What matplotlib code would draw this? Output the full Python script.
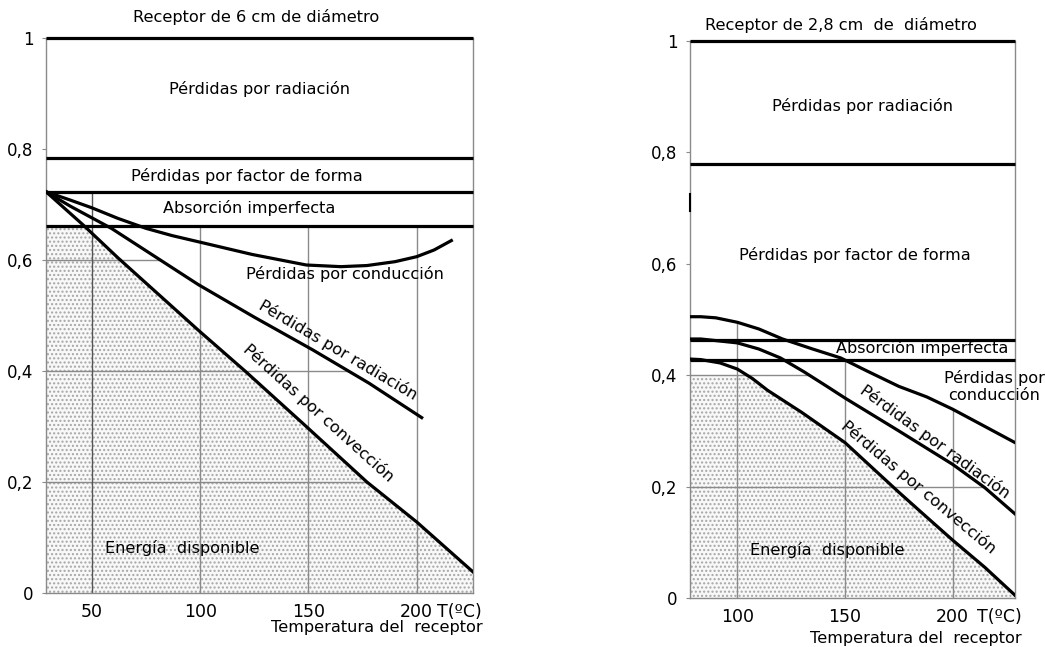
import matplotlib.pyplot as plt
import numpy as np
from matplotlib.patches import Rectangle

# ---- left panel: receptor de 6 cm ----
L_xlim = (28.8, 226)
L_levels = [1.0, 0.783, 0.723, 0.661]   # radiación / factor de forma / absorción bands

L_T_cond = [28.8, 40, 50, 62, 75, 87, 99, 124, 149, 165, 177, 190, 200, 208, 216]
L_v_cond = [0.723, 0.708, 0.694, 0.675, 0.657, 0.644, 0.633, 0.610, 0.591, 0.588, 0.590, 0.597, 0.606, 0.618, 0.635]

L_T_rad = [28.8, 40, 59, 80, 99, 125, 152, 178, 202.3]
L_v_rad = [0.723, 0.697, 0.657, 0.604, 0.556, 0.497, 0.438, 0.378, 0.316]

L_T_conv = [28.8, 46, 62, 99, 121, 149, 177, 200, 226]
L_v_conv = [0.723, 0.663, 0.604, 0.474, 0.399, 0.300, 0.200, 0.128, 0.038]

L_xticks = [50, 100, 150, 200]

# ---- right panel: receptor de 2,8 cm ----
R_xlim = (78, 229)
R_levels = [1.0, 0.780, 0.464, 0.428]

R_T_cond = [78, 83, 90, 100, 110, 121, 135, 148, 160, 175, 188, 200, 215, 229]
R_v_cond = [0.505, 0.505, 0.503, 0.495, 0.483, 0.465, 0.447, 0.431, 0.408, 0.38, 0.361, 0.339, 0.308, 0.279]

R_T_rad = [78, 83, 100, 110, 120, 131, 142, 150, 175, 200, 215, 229]
R_v_rad = [0.465, 0.465, 0.458, 0.447, 0.431, 0.406, 0.379, 0.359, 0.300, 0.240, 0.198, 0.151]

R_T_conv = [78, 83, 92, 100, 107, 114, 130, 150, 175, 186, 200, 215, 229]
R_v_conv = [0.429, 0.428, 0.422, 0.411, 0.394, 0.373, 0.333, 0.279, 0.190, 0.152, 0.104, 0.055, 0.005]

R_xticks = [100, 150, 200]

yticks = [0, 0.2, 0.4, 0.6, 0.8, 1.0]
ytick_labels = ["0", "0,2", "0,4", "0,6", "0,8", "1"]

LW = 2.3
GRID = "#8a8a8a"
FS = 11.6


def stipple(ax, T, v, top, xlim):
    patch = ax.fill_between(T, 0, v, facecolor="#f8f8f8", edgecolor="#a6a6a6",
                            hatch="....", linewidth=0, zorder=1)
    rect = Rectangle((xlim[0], 0), xlim[1] - xlim[0], top, transform=ax.transData)
    patch.set_clip_path(rect)


def setup_axes(ax, xlim, xticks):
    ax.set_xlim(*xlim)
    ax.set_ylim(0, 1)
    ax.set_yticks(yticks)
    ax.set_yticklabels(ytick_labels)
    ax.set_xticks(xticks)
    ax.set_xticklabels([str(t) for t in xticks])
    ax.tick_params(axis="y", length=3, width=0.8, color=GRID, labelsize=12, pad=6)
    ax.tick_params(axis="x", length=0, labelsize=12.5, pad=7)
    ax.spines["top"].set_visible(False)
    for s in ["left", "right", "bottom"]:
        ax.spines[s].set_color(GRID)
        ax.spines[s].set_linewidth(1.0)


def crossing(level, T, v):
    # T where a decreasing curve passes a given level
    return np.interp(level, v[::-1], T[::-1])


plt.rcParams["font.family"] = "DejaVu Sans"
plt.rcParams["hatch.linewidth"] = 1.0
fig = plt.figure(figsize=(10.45, 6.47), dpi=100)

# ================= left =================
ax = fig.add_axes([46 / 1045, 54 / 647, 427 / 1045, 555 / 647])
setup_axes(ax, L_xlim, L_xticks)
stipple(ax, L_T_conv, L_v_conv, L_levels[3], L_xlim)

Tr, vr = np.array(L_T_rad), np.array(L_v_rad)
Tc, vc = np.array(L_T_conv), np.array(L_v_conv)
for lev in [0.6, 0.4]:
    ax.plot([L_xlim[0], crossing(lev, Tr, vr)], [lev, lev], color=GRID, lw=1, zorder=2)
ax.plot([L_xlim[0], crossing(0.2, Tc, vc)], [0.2, 0.2], color=GRID, lw=1, zorder=2)
ax.plot([50, 50], [0, L_levels[2]], color="#555555", lw=1, zorder=2)
for t in [100, 150, 200]:
    ax.plot([t, t], [0, L_levels[3]], color=GRID, lw=1, zorder=2)

for lev in L_levels:
    ax.plot(L_xlim, [lev, lev], color="black", lw=LW, clip_on=False, zorder=4,
            solid_capstyle="butt")
ax.plot(L_T_cond, L_v_cond, color="black", lw=LW, zorder=4)
ax.plot(L_T_rad, L_v_rad, color="black", lw=LW, zorder=4)
ax.plot(L_T_conv, L_v_conv, color="black", lw=LW, zorder=4)

ax.text(125.7, 1.038, "Receptor de 6 cm de diámetro", ha="center", va="center", fontsize=FS,
        transform=ax.get_xaxis_transform())
ax.text(127.5, 0.908, "Pérdidas por radiación", ha="center", va="center", fontsize=FS)
ax.text(121.5, 0.751, "Pérdidas por factor de forma", ha="center", va="center", fontsize=FS)
ax.text(122.5, 0.693, "Absorción imperfecta", ha="center", va="center", fontsize=FS)
ax.text(167, 0.575, "Pérdidas por conducción", ha="center", va="center", fontsize=FS)
ax.text(163.5, 0.438, "Pérdidas por radiación", ha="center", va="center", fontsize=FS,
        rotation=-30.5, rotation_mode="anchor")
ax.text(154.8, 0.324, "Pérdidas por convección", ha="center", va="center", fontsize=FS,
        rotation=-42, rotation_mode="anchor")
ax.text(91.5, 0.081, "Energía  disponible", ha="center", va="center", fontsize=FS)

ax.annotate("T(ºC)", xy=(209.2, 0), xycoords=("data", "axes fraction"), xytext=(0, -7),
            textcoords="offset points", ha="left", va="top", fontsize=12.5)
ax.annotate("Temperatura del  receptor", xy=(230.4, 0), xycoords=("data", "axes fraction"),
            xytext=(0, -25), textcoords="offset points", ha="right", va="center",
            fontsize=FS, annotation_clip=False)

# ================= right =================
ax = fig.add_axes([690 / 1045, 49 / 647, 325 / 1045, 557 / 647])
setup_axes(ax, R_xlim, R_xticks)
stipple(ax, R_T_conv, R_v_conv, 0.4, R_xlim)

Tr, vr = np.array(R_T_rad), np.array(R_v_rad)
for lev in [0.4, 0.2]:
    ax.plot([R_xlim[0], crossing(lev, Tr, vr)], [lev, lev], color=GRID, lw=1, zorder=2)
for t in R_xticks:
    ax.plot([t, t], [0, np.interp(t, R_T_cond, R_v_cond)], color=GRID, lw=1, zorder=2)

for lev in R_levels:
    ax.plot(R_xlim, [lev, lev], color="black", lw=LW, clip_on=False, zorder=4,
            solid_capstyle="butt")
ax.plot(R_T_cond, R_v_cond, color="black", lw=LW, zorder=4)
ax.plot(R_T_rad, R_v_rad, color="black", lw=LW, zorder=4)
ax.plot(R_T_conv, R_v_conv, color="black", lw=LW, zorder=4)
# scan mark on the left edge
ax.plot([R_xlim[0], R_xlim[0]], [0.695, 0.725], color="black", lw=1.5, clip_on=False, zorder=4)

ax.text(148.2, 1.029, "Receptor de 2,8 cm  de  diámetro", ha="center", va="center", fontsize=FS,
        transform=ax.get_xaxis_transform())
ax.text(158, 0.883, "Pérdidas por radiación", ha="center", va="center", fontsize=FS)
ax.text(154.7, 0.616, "Pérdidas por factor de forma", ha="center", va="center", fontsize=FS)
ax.text(186, 0.449, "Absorción imperfecta", ha="center", va="center", fontsize=FS)
ax.text(219.4, 0.38, "Pérdidas por\nconducción", ha="center", va="center", fontsize=FS,
        multialignment="center", linespacing=1.2, clip_on=False)
ax.text(192, 0.28, "Pérdidas por radiación", ha="center", va="center", fontsize=FS,
        rotation=-36, rotation_mode="anchor")
ax.text(184, 0.199, "Pérdidas por convección", ha="center", va="center", fontsize=FS,
        rotation=-40, rotation_mode="anchor")
ax.text(142, 0.086, "Energía  disponible", ha="center", va="center", fontsize=FS)

ax.annotate("T(ºC)", xy=(211.5, 0), xycoords=("data", "axes fraction"), xytext=(0, -7),
            textcoords="offset points", ha="left", va="top", fontsize=12.5)
ax.annotate("Temperatura del  receptor", xy=(232, 0), xycoords=("data", "axes fraction"),
            xytext=(0, -29), textcoords="offset points", ha="right", va="center",
            fontsize=FS, annotation_clip=False)

fig.savefig("out.png", dpi=100)
